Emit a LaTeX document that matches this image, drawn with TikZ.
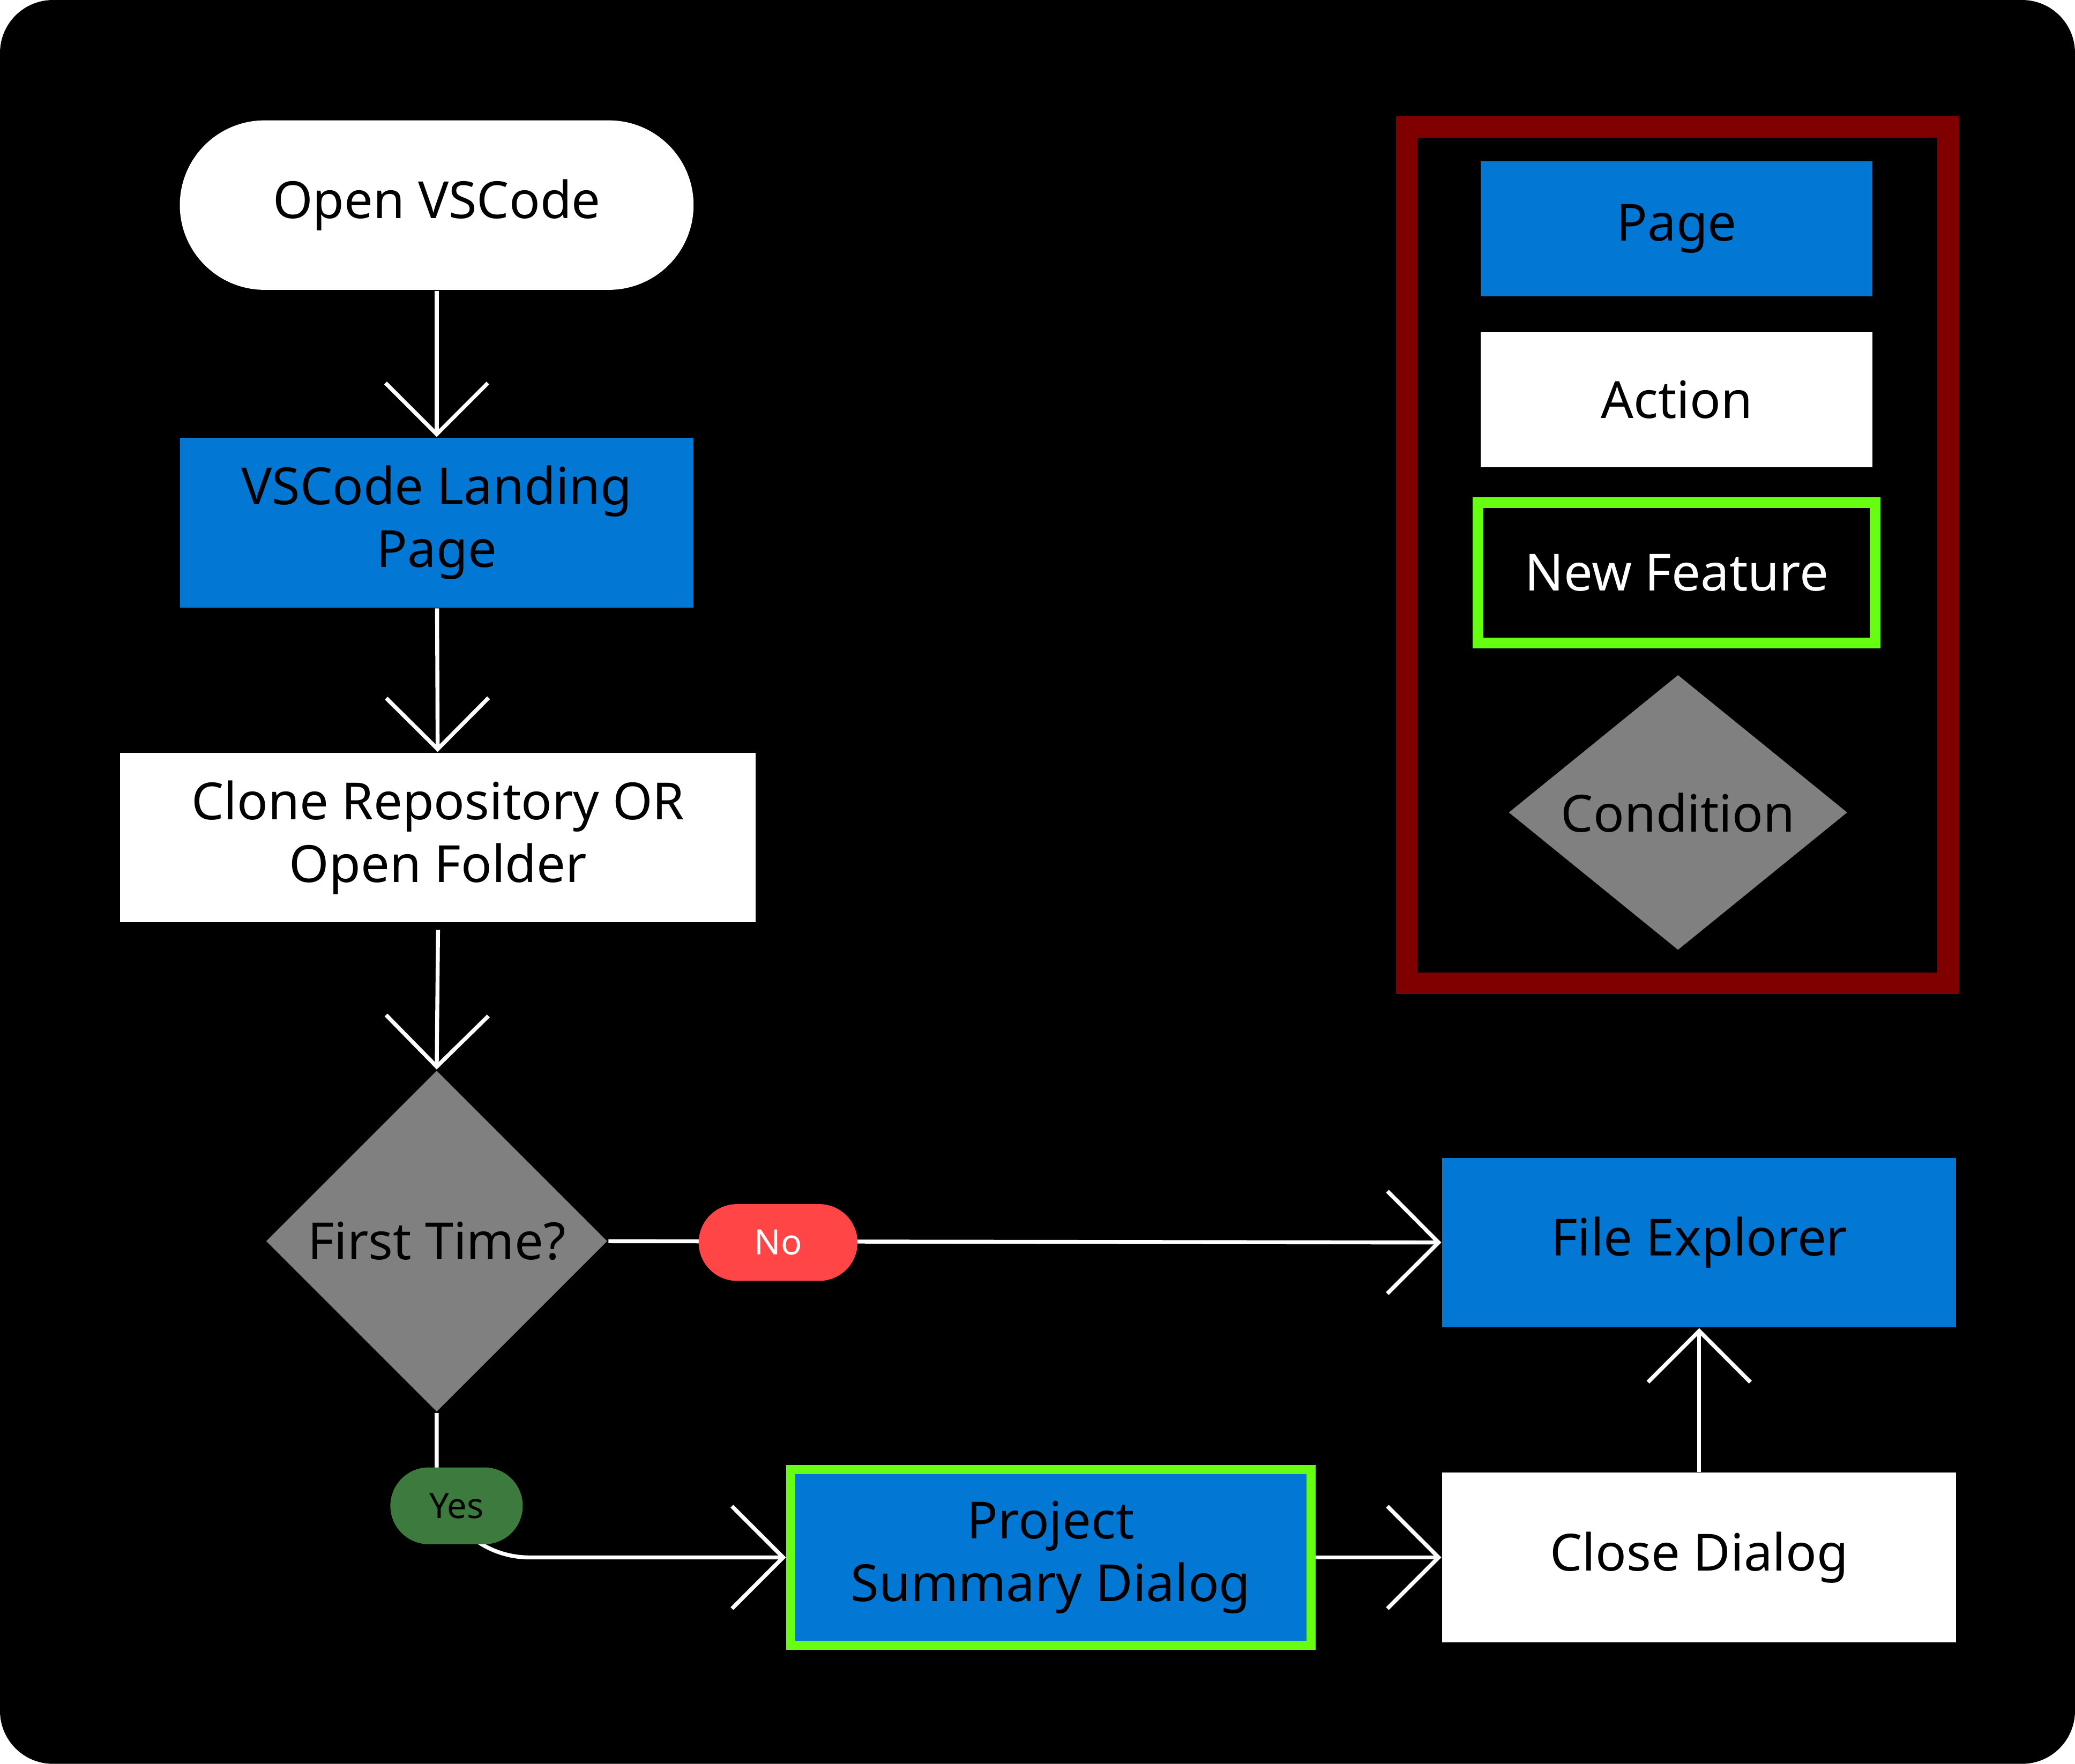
\documentclass[tikz,border=0pt]{standalone}
\usepackage{fontspec}
\setmainfont{Noto Sans}
\usetikzlibrary{shapes.geometric,arrows.meta}
\definecolor{pblue}{HTML}{0277D4}
\definecolor{cgray}{HTML}{808080}
\definecolor{nored}{HTML}{FF4545}
\definecolor{yesgreen}{HTML}{3D7A3D}
\definecolor{lime}{HTML}{66FF11}
\definecolor{dred}{HTML}{800000}
\begin{document}
\begin{tikzpicture}[x=0.01cm,y=-0.01cm,
  txt/.style={font=\fontsize{11}{13.5}\selectfont,align=center,inner sep=0pt},
  page/.style={txt,fill=pblue,text=black,minimum width=3.88cm,minimum height=1.28cm},
  action/.style={txt,fill=white,text=black,minimum width=3.88cm,minimum height=1.28cm},
  cond/.style={txt,diamond,fill=cgray,text=black,minimum width=2.58cm,minimum height=2.58cm,inner sep=0pt},
  conn/.style={draw=white,line width=0.85pt,-{Straight Barb[length=11pt,width=22pt,line width=0.85pt]}},
  pill/.style={rounded corners=0.29cm,minimum height=0.58cm,inner sep=0pt,font=\fontsize{7.5}{9}\selectfont}]
\fill[black,rounded corners=0.4cm] (0,0) rectangle (1568,1333);
\useasboundingbox (0,0) rectangle (1568,1333);
% legend
\draw[dred,line width=16*0.01cm] (1063,96) rectangle (1472,743);
\node[page,minimum width=2.96cm,minimum height=1.02cm] (lp) at (1267,173) {Page};
\node[action,minimum width=2.96cm,minimum height=1.02cm] (la) at (1267,302) {Action};
\node[txt,fill=black,text=white,draw=lime,line width=0.08cm,minimum width=3.0cm,minimum height=1.06cm] (ln) at (1267,433) {New Feature};
\node[cond,minimum width=2.56cm,minimum height=2.08cm] (lc) at (1268,614) {Condition};
% flow
\node[txt,fill=white,text=black,rounded corners=0.64cm,minimum width=3.88cm,minimum height=1.28cm] (open) at (330,155) {Open VSCode};
\node[page] (land) at (330,395) {VSCode Landing\\Page};
\node[action,minimum width=4.8cm] (clone) at (331,633) {Clone Repository OR\\Open Folder};
\node[cond] (first) at (330,938) {First Time?};
\node[page] (fe) at (1284,939) {File Explorer};
\node[page,draw=lime,line width=0.07cm,minimum width=3.93cm,minimum height=1.33cm] (proj) at (794,1177) {Project\\Summary Dialog};
\node[action] (close) at (1284,1177) {Close Dialog};
\draw[conn] (open) -- (land);
\draw[conn] (land) -- (clone);
\draw[conn] ([yshift=-0.05cm]clone.south) -- (first.north);
\draw[conn] (first.east) -- (fe.west);
\draw[conn,rounded corners=0.7cm] (first.south) |- (proj.west);
\draw[conn] (proj.east) -- (close.west);
\draw[conn] (close.north) -- (fe.south);
\node[pill,fill=nored,text=white,minimum width=1.2cm] (no) at (588,939) {No};
\node[pill,fill=yesgreen,text=black,minimum width=1.0cm] (yes) at (345,1138) {Yes};
\end{tikzpicture}
\end{document}
